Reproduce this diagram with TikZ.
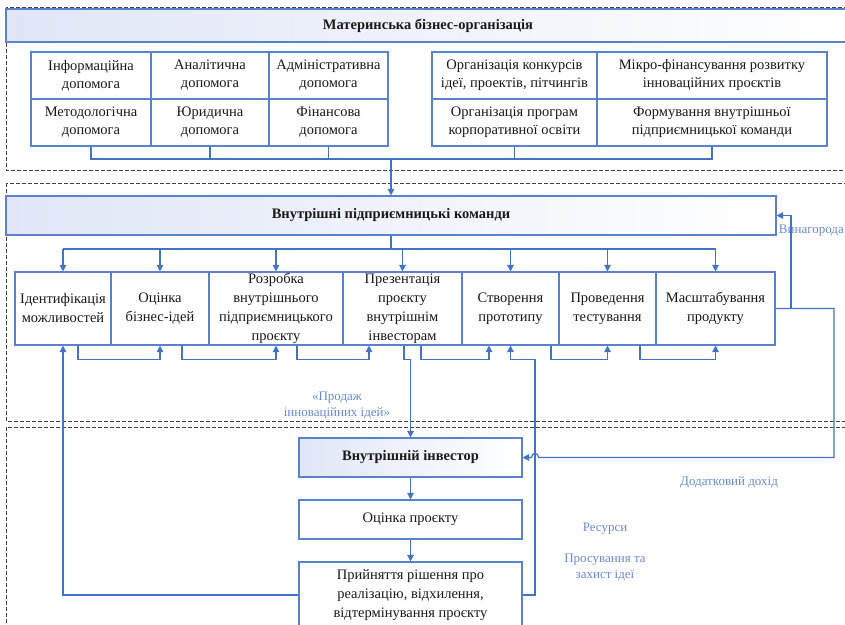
\documentclass[tikz,border=0pt]{standalone}
\usepackage{fontspec}
\setmainfont{Liberation Serif}
\usetikzlibrary{arrows.meta,calc}
\definecolor{bx}{HTML}{5B80CC}
\definecolor{ln}{HTML}{4472C4}
\definecolor{lb}{HTML}{6A8AD0}
\definecolor{hd}{HTML}{E0E6F6}
\newcommand{\fs}{\fontsize{14.5}{18}\selectfont}
\newcommand{\fr}{\fontsize{14.5}{19}\selectfont}
\tikzset{
  cell/.style={draw=bx, line width=1.1pt, inner sep=0pt, align=center, font=\fs, text=black!90},
  rowbox/.style={cell, font=\fr, minimum height=73},
  hdr/.style={cell, left color=hd, right color=white, font=\fs\bfseries},
  conn/.style={draw=ln, line width=1.2pt},
  arr/.style={conn, -{Triangle[length=6.5pt,width=6.5pt]}},
  frame/.style={draw=black!75, dash pattern=on 4pt off 2pt, line width=0.8pt},
  lbl/.style={text=lb, font=\fontsize{13}{16}\selectfont, align=center, inner sep=0pt}
}
\begin{document}
\begin{tikzpicture}[x=1pt,y=-1pt]
\clip (0,0) rectangle (845,624);
\fill[white] (0,0) rectangle (845,624);
% frames
\draw[frame] (6,7) rectangle (852,170);
\draw[frame] (6,183) rectangle (852,421);
\draw[frame] (6,427) rectangle (852,640);
% header 1
\node[hdr, minimum width=844, minimum height=33] (h1) at (428,25.5) {Материнська бізнес-організація};
% left grid
\node[cell, minimum width=120, minimum height=47] (g11) at (91,75.5) {Інформаційна\\допомога};
\node[cell, minimum width=118, minimum height=47] (g12) at (210,75.5) {Аналітична\\допомога};
\node[cell, minimum width=119, minimum height=47] (g13) at (328.5,75.5) {Адміністративна\\допомога};
\node[cell, minimum width=120, minimum height=47] (g21) at (91,122.5) {Методологічна\\допомога};
\node[cell, minimum width=118, minimum height=47] (g22) at (210,122.5) {Юридична\\допомога};
\node[cell, minimum width=119, minimum height=47] (g23) at (328.5,122.5) {Фінансова\\допомога};
% right grid
\node[cell, minimum width=165, minimum height=47] (r11) at (514.5,75.5) {Організація конкурсів\\ідеї, проектів, пітчингів};
\node[cell, minimum width=230, minimum height=47] (r12) at (712,75.5) {Мікро-фінансування розвитку\\інноваційних проєктів};
\node[cell, minimum width=165, minimum height=47] (r21) at (514.5,122.5) {Організація програм\\корпоративної освіти};
\node[cell, minimum width=230, minimum height=47] (r22) at (712,122.5) {Формування внутрішньої\\підприємницької команди};
% header 2
\node[hdr, minimum width=770, minimum height=39] (h2) at (391,215.5) {Внутрішні підприємницькі команди};
% row boxes
\node[rowbox, minimum width=96] (b1) at (63,308.5) {Ідентифікація\\можливостей};
\node[rowbox, minimum width=98] (b2) at (160,308.5) {Оцінка\\бізнес-ідей};
\node[rowbox, minimum width=134] (b3) at (276,308.5) {Розробка\\внутрішнього\\підприємницького\\проєкту};
\node[rowbox, minimum width=119] (b4) at (402.5,308.5) {Презентація\\проєкту\\внутрішнім\\інвесторам};
\node[rowbox, minimum width=97] (b5) at (510.5,308.5) {Створення\\прототипу};
\node[rowbox, minimum width=97] (b6) at (607.5,308.5) {Проведення\\тестування};
\node[rowbox, minimum width=119] (b7) at (715.5,308.5) {Масштабування\\продукту};
% investor column
\node[hdr, minimum width=223, minimum height=39] (inv) at (410.5,457.5) {Внутрішній інвестор};
\node[cell, minimum width=223, minimum height=39] (ocp) at (410.5,519.5) {Оцінка проєкту};
\node[cell, font=\fontsize{14.5}{19}\selectfont, minimum width=223, minimum height=66] (pr) at (410.5,595) {Прийняття рішення про\\реалізацію, відхилення,\\відтермінування проєкту};
% labels
\node[lbl, anchor=east] (lv) at (844,231) {Винагорода};
\node[lbl] (ld) at (729,482) {Додатковий дохід};
\node[lbl] (lr) at (605,529) {Ресурси};
\node[lbl] (lp) at (605,567.5) {Просування та\\захист ідеї};
\node[lbl] (ls) at (337,405) {«Продаж\\інноваційних ідей»};
% bus 1
\coordinate (j1) at (391,159);
\draw[conn] (g21.south) -- (g21.south |- j1) -- (r22.south |- j1) -- (r22.south);
\draw[conn] (g22.south) -- (g22.south |- j1);
\draw[conn] (g23.south) -- (g23.south |- j1);
\draw[conn] (r21.south) -- (r21.south |- j1);
\draw[arr] (j1) -- (h2.north);
% bus 2
\coordinate (j2) at (391,249);
\draw[conn] (h2.south) -- (j2);
\draw[conn] (b1.north |- j2) -- (b7.north |- j2);
\foreach \b in {b1,b2,b3,b4,b5,b6,b7} \draw[arr] (\b.north |- j2) -- (\b.north);
% chain under boxes
\draw[arr] ([xshift=15]b1.south) -- ++(0,14) -| (b2.south);
\draw[arr] ([xshift=22]b2.south) -- ++(0,14) -| (b3.south);
\draw[arr] ([xshift=21]b3.south) -- ++(0,14) -| ([xshift=-33.5]b4.south);
\draw[arr] ([xshift=18.5]b4.south) -- ++(0,14) -| ([xshift=-21.5]b5.south);
\draw[arr] ([xshift=40.5]b5.south) -- ++(0,14) -| (b6.south);
\draw[arr] ([xshift=32.5]b6.south) -- ++(0,14) -| (b7.south);
% to investor
\draw[arr] ([xshift=1.5]b4.south) -- ++(0,14) -| (inv.north);
\draw[arr] (inv.south) -- (ocp.north);
\draw[arr] (ocp.south) -- (pr.north);
% feedback
\draw[arr] (pr.west) -| (b1.south);
\coordinate (k1) at (535,595);
\draw[arr] (pr.east) -- (k1) |- ($(b5.south)+(0,14)$) -- (b5.south);
% reward
\coordinate (vn) at (791,215.5);
\draw[arr] (b7.east) -| (vn) -- (h2.east);
% additional income
\coordinate (rr) at (834,308.5);
\coordinate (rb) at (834,457.5);
\draw[arr] (b7.east) -- (rr) -- (rb) -- (538.5,457.5) .. controls (538.5,452) and (531.5,452) .. (531.5,457.5) -- (inv.east);
\end{tikzpicture}
\end{document}
